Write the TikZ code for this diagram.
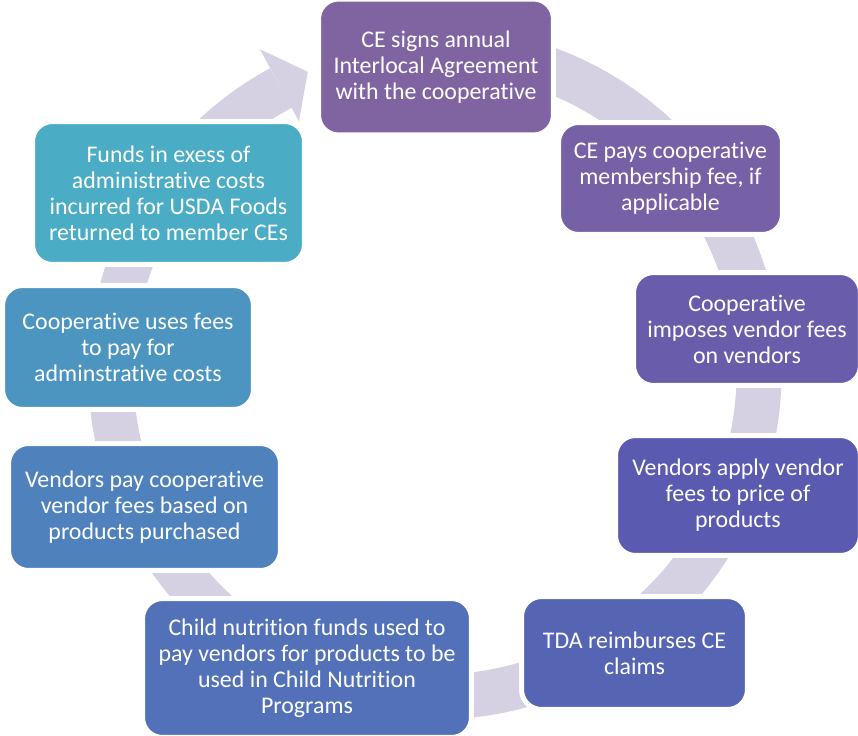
\documentclass[tikz,border=0pt]{standalone}
\usepackage{fontspec}
\setmainfont{Carlito}[Ligatures=NoCommon]
\usetikzlibrary{calc}
\definecolor{ringgray}{HTML}{D5D1E2}
\definecolor{boxA}{HTML}{8064A2}
\definecolor{boxB}{HTML}{7660A6}
\definecolor{boxC}{HTML}{695DAB}
\definecolor{boxD}{HTML}{5A5AB0}
\definecolor{boxE}{HTML}{5664B4}
\definecolor{boxF}{HTML}{5271B8}
\definecolor{boxG}{HTML}{4F81BD}
\definecolor{boxH}{HTML}{4D95C1}
\definecolor{boxI}{HTML}{4BACC6}

\begin{document}
\begin{tikzpicture}[
		x=0.02cm, y=0.02cm,
		ring/.style={ringgray, line width=0.9cm},
		stepbox/.style={rounded corners=0.4cm, draw=white, line width=0.1cm,
			text=white, align=center, inner sep=0pt,
			font=\fontsize{13.6}{14.8}\selectfont},
	]
	\useasboundingbox (0,0) rectangle (858,735);
	\coordinate (center) at (435,362);
	% ring with its arrowhead
	\draw[ring] ($(center)+(80:324)$) arc[start angle=80, end angle=-241.6, radius=324];
	\fill[ringgray] ($(center)+(118.4:368)$) -- ($(center)+(112.9:327)$) -- ($(center)+(118.4:286)$) -- cycle;
	\node[stepbox, fill=boxA, minimum width=4.7cm, minimum height=2.72cm] (ceSigns) at (436,668)
		{CE signs annual\\Interlocal Agreement\\with the cooperative};
	\node[stepbox, fill=boxB, minimum width=4.48cm, minimum height=2.24cm] (cePays) at (670.5,556.5)
		{CE pays cooperative\\membership fee, if\\applicable};
	\node[stepbox, fill=boxC, minimum width=4.54cm, minimum height=2.26cm] (coopImposes) at (747,406)
		{Cooperative\\imposes vendor fees\\on vendors};
	\node[stepbox, fill=boxD, minimum width=4.9cm, minimum height=2.4cm] (vendorsApply) at (738,239.5)
		{Vendors apply vendor\\fees to price of\\products};
	\node[stepbox, fill=boxE, minimum width=4.52cm, minimum height=2.26cm] (tdaReimburses) at (634.5,82)
		{TDA reimburses CE\\claims};
	\node[stepbox, fill=boxF, minimum width=6.58cm, minimum height=2.78cm] (childFunds) at (307,67)
		{Child nutrition funds used to\\pay vendors for products to be\\used in Child Nutrition\\Programs};
	\node[stepbox, fill=boxG, minimum width=5.44cm, minimum height=2.54cm] (vendorsPay) at (144.5,228)
		{Vendors pay cooperative\\vendor fees based on\\products purchased};
	\node[stepbox, fill=boxH, minimum width=5.02cm, minimum height=2.48cm] (coopUses) at (128,387.5)
		{Cooperative uses fees\\to pay for\\adminstrative costs};
	\node[stepbox, fill=boxI, minimum width=5.44cm, minimum height=2.86cm] (fundsReturned) at (168.5,542)
		{Funds in exess of\\administrative costs\\incurred for USDA Foods\\returned to member CEs};
\end{tikzpicture}
\end{document}
